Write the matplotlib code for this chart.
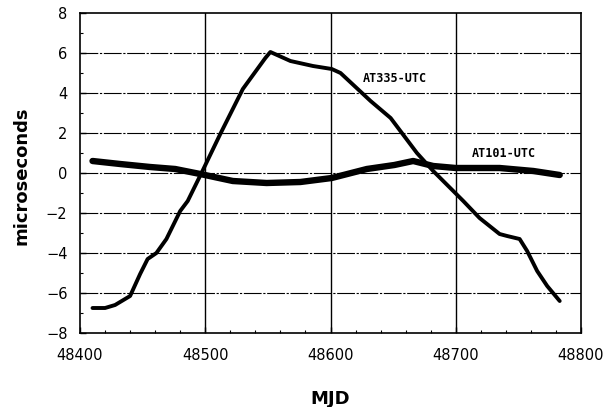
"""Recreate AT335-UTC / AT101-UTC clock comparison plot."""
import matplotlib
matplotlib.use('Agg')
import matplotlib.pyplot as plt
from matplotlib.ticker import MultipleLocator

# AT335-UTC (MJD, microseconds)
at335_mjd = [48410, 48420, 48428, 48440, 48448, 48454, 48461, 48469, 48480, 48486,
             48497, 48512, 48530, 48548, 48552, 48568, 48586, 48601, 48608, 48632,
             48648, 48669, 48682, 48706, 48719, 48735, 48741, 48751, 48757, 48765,
             48773, 48783]
at335_us = [-6.75, -6.75, -6.6, -6.15, -5.05, -4.3, -4.0, -3.3, -1.9, -1.4,
            0.0, 1.95, 4.2, 5.75, 6.05, 5.6, 5.35, 5.2, 5.0, 3.6,
            2.75, 1.0, 0.1, -1.4, -2.25, -3.05, -3.15, -3.3, -3.9, -4.9,
            -5.65, -6.4]

# AT101-UTC
at101_mjd = [48410, 48432, 48456, 48476, 48496, 48522, 48549, 48576, 48601, 48629,
             48651, 48666, 48682, 48700, 48735, 48762, 48783]
at101_us = [0.6, 0.45, 0.3, 0.2, -0.05, -0.4, -0.5, -0.45, -0.25, 0.2,
            0.4, 0.6, 0.35, 0.25, 0.25, 0.1, -0.1]

x_ticks = [48400, 48500, 48600, 48700, 48800]
y_ticks = [-8, -6, -4, -2, 0, 2, 4, 6, 8]

fig = plt.figure(figsize=(6.08, 4.07), dpi=100)
ax = fig.add_axes([80 / 608, 1 - 333 / 407, 501 / 608, 320 / 407])

# grid: solid verticals, broken horizontals
for x in x_ticks[1:-1]:
    ax.axvline(x, color='black', lw=1.0, zorder=1)
for y in y_ticks[1:-1]:
    ax.axhline(y, color='black', lw=0.8, ls=(0, (16, 1.5, 2, 1.5)), zorder=1)

ax.plot(at335_mjd, at335_us, color='black', lw=2.8, solid_capstyle='round',
        solid_joinstyle='round', zorder=3)
ax.plot(at101_mjd, at101_us, color='black', lw=4.6, solid_capstyle='round',
        solid_joinstyle='round', zorder=3)

ax.text(48626, 4.75, 'AT335-UTC', fontsize=8.5, fontweight='bold',
        fontfamily='DejaVu Sans Mono', va='center')
ax.text(48713, 1.0, 'AT101-UTC', fontsize=8.5, fontweight='bold',
        fontfamily='DejaVu Sans Mono', va='center')

ax.set_xlim(48400, 48800)
ax.set_ylim(-8, 8)
ax.set_xticks(x_ticks)
ax.set_yticks(y_ticks)
ax.xaxis.set_minor_locator(MultipleLocator(20))
ax.yaxis.set_minor_locator(MultipleLocator(1))
ax.tick_params(which='both', direction='in', labelsize=10.5)
ax.tick_params(axis='x', pad=11)
ax.tick_params(axis='y', pad=9)
ax.tick_params(which='major', length=4, width=1)
ax.tick_params(which='minor', length=2.5, width=0.8)
for s in ax.spines.values():
    s.set_linewidth(1.2)

ax.set_xlabel('MJD', fontsize=13, fontweight='bold')
ax.set_ylabel('microseconds', fontsize=13, fontweight='bold')
ax.xaxis.set_label_coords(0.5, (333 - 390) / 320)
ax.yaxis.set_label_coords((31 - 80) / 501, 0.49)

fig.savefig('out.png', dpi=100)
